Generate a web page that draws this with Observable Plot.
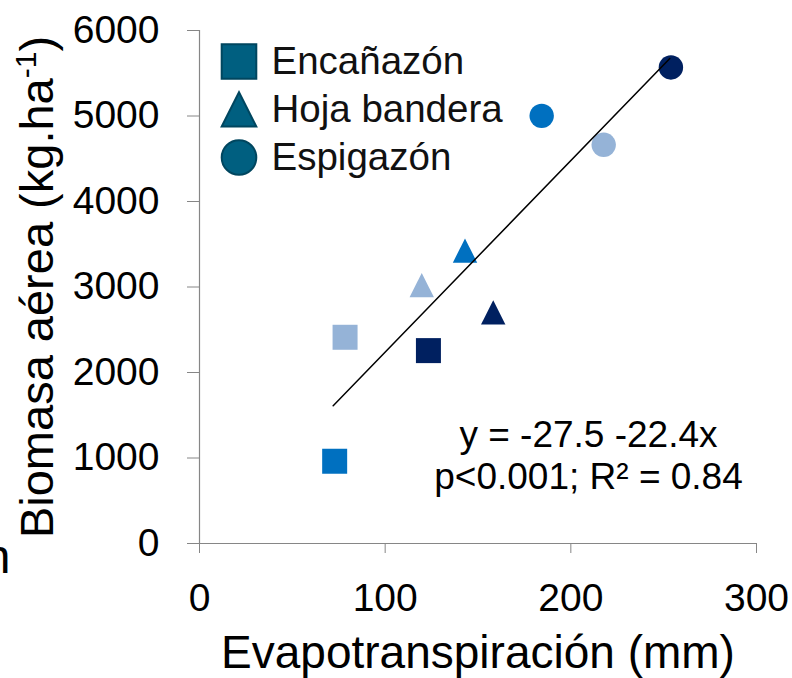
<!DOCTYPE html>
<html><head><meta charset="utf-8">
<script src="https://cdn.jsdelivr.net/npm/d3@7"></script>
<script src="https://cdn.jsdelivr.net/npm/@observablehq/plot@0.6"></script>
<style>
html,body{margin:0;padding:0;background:#fff;overflow:hidden;}
#chart{width:792px;height:678px;}
</style></head><body><div id="chart"></div>
<script>
// ---- data ----
const stages = ["Encañazón","Encañazón","Encañazón","Hoja bandera","Hoja bandera","Hoja bandera","Espigazón","Espigazón","Espigazón"];
const shades = ["light","medium","dark","light","medium","dark","light","medium","dark"];
const et = [78.4, 72.8, 123.3, 119.7, 143.0, 158.2, 217.7, 184.3, 253.9];
const biomass = [2412, 962, 2256, 3021, 3424, 2701, 4663, 5002, 5568];
const fitET = [72, 253.3];
const fitBiomass = [1612, 5672];
const legendStages = ["Encañazón", "Hoja bandera", "Espigazón"];
const xTicks = [0, 100, 200, 300];
const yTicks = [0, 1000, 2000, 3000, 4000, 5000, 6000];
const annotationLines = ["y = -27.5 -22.4x", "p<0.001; R² = 0.84"];
const xTitle = "Evapotranspiración (mm)";
const yTitleMain = "Biomasa aérea (kg.ha";
const yTitleSup = "-1";
const yTitleEnd = ")";
const shadeNames = ["light", "medium", "dark"];
const shadeColors = ["#95B3D7", "#0070C0", "#002060"];

// ---- custom symbols (Excel-like) ----
const sqSym = {draw(ctx, size){ const r = Math.sqrt(size/Math.PI); ctx.moveTo(-r,-r); ctx.lineTo(r,-r); ctx.lineTo(r,r); ctx.lineTo(-r,r); ctx.closePath(); }};
const triSym = {draw(ctx, size){ const r = Math.sqrt(size/Math.PI); ctx.moveTo(0,-r); ctx.lineTo(r,r*0.98); ctx.lineTo(-r,r*0.98); ctx.closePath(); }};
const circSym = {draw(ctx, size){ const r = Math.sqrt(size/Math.PI); ctx.moveTo(r,0); ctx.arc(0,0,r,0,2*Math.PI); }};
const symbolRange = [sqSym, triSym, circSym];
const sizeByStage = [12.5, 12.2, 12.2];

const idx = d3.range(et.length);
const fitIdx = d3.range(fitET.length);
const axisGray = "#868686";
const font = "'Liberation Sans', Arial, sans-serif";

const pointMarks = legendStages.map((s, k) =>
  Plot.dot(idx.filter(i => stages[i] === s), {x: i => et[i], y: i => biomass[i], symbol: symbolRange[k], fill: i => shades[i], r: sizeByStage[k], stroke: "none"})
);

const legendMarks = [];
legendStages.forEach((s, i) => {
  legendMarks.push(Plot.dot([s], {frameAnchor: "top-left", dx: 39.5, dy: 31 + i*48, symbol: symbolRange[i], r: 17.3, fill: "#005F80", stroke: "#00465F", strokeWidth: 2}));
  legendMarks.push(Plot.text([s], {frameAnchor: "top-left", dx: 72, dy: 43 + i*48, text: d => d, textAnchor: "start", lineAnchor: "bottom", fontSize: 38.5, fill: "#111"}));
});

const chart = Plot.plot({
  width: 792,
  height: 678,
  marginLeft: 199,
  marginRight: 36,
  marginTop: 30,
  marginBottom: 135,
  style: {fontFamily: font, background: "#fff", overflow: "visible"},
  x: {domain: [0, 300]},
  y: {domain: [0, 6000]},
  color: {domain: shadeNames, range: shadeColors},
  marks: [
    Plot.ruleX([0], {stroke: axisGray, strokeWidth: 1.2}),
    Plot.ruleY([0], {stroke: axisGray, strokeWidth: 1.2}),
    Plot.axisX(xTicks, {tickSize: 10, tickPadding: 30, fontSize: 39, stroke: axisGray, fill: "#000", tickFormat: d => String(d), label: null}),
    Plot.axisY(yTicks, {tickSize: 12, tickPadding: 28, fontSize: 39, stroke: axisGray, fill: "#000", tickFormat: d => String(d), label: null}),
    ...pointMarks,
    Plot.line(fitIdx, {x: i => fitET[i], y: i => fitBiomass[i], stroke: "#000", strokeWidth: 1.5}),
    Plot.text([annotationLines.join("\n")], {frameAnchor: "bottom-right", dx: -168, dy: -55, text: d => d, textAnchor: "middle", lineAnchor: "bottom", lineHeight: 1.135, fontSize: 37, fill: "#000"}),
    Plot.text([xTitle], {frameAnchor: "bottom", dx: 0, dy: 124, text: d => d, textAnchor: "middle", lineAnchor: "bottom", fontSize: 46, fill: "#000"}),
    Plot.text([yTitleMain + yTitleSup + yTitleEnd], {frameAnchor: "left", dx: -147, dy: 0, rotate: -90, text: d => d, textAnchor: "middle", lineAnchor: "bottom", fontSize: 47, fill: "#000"}),
    Plot.text(["n"], {frameAnchor: "bottom-left", dx: -189, dy: 29, text: d => d, textAnchor: "end", lineAnchor: "bottom", fontSize: 48, fill: "#000"}),
    ...legendMarks
  ]
});

document.getElementById("chart").appendChild(chart);

// superscript in y title
d3.select(chart).selectAll("text").filter(function(){ return this.textContent === yTitleMain + yTitleSup + yTitleEnd; }).each(function(){
  const t = d3.select(this);
  t.text(null);
  t.append("tspan").text(yTitleMain);
  t.append("tspan").attr("font-size", 30).attr("dy", -17).text(yTitleSup);
  t.append("tspan").attr("dy", 17).text(yTitleEnd);
});
</script>
</body></html>
